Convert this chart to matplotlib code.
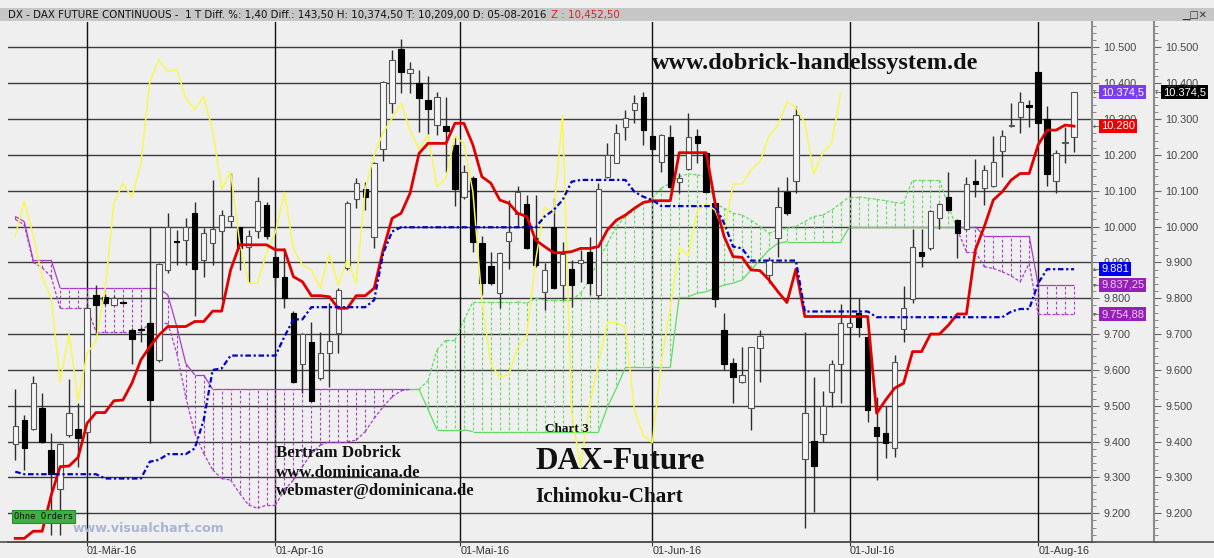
import matplotlib
matplotlib.use("Agg")
import matplotlib.pyplot as plt
import numpy as np
from matplotlib.collections import LineCollection
from matplotlib.transforms import blended_transform_factory
from matplotlib.patches import Rectangle
from matplotlib.lines import Line2D

# daily bars, index 0 .. 118 (mid Feb 2016 .. 05-Aug-2016)
opens = [9392, 9460, 9435, 9493, 9377, 9267, 9418, 9435, 9428, 9809,
         9804, 9781, 9790, 9711, 9713, 9730, 9628, 9879, 9958, 9962,
         10039, 9907, 9953, 9988, 10016, 10000, 9944, 9988, 10060, 9916,
         9860, 9760, 9616, 9679, 9578, 9648, 9704, 9883, 10076, 10104,
         9972, 10215, 10344, 10494, 10427, 10400, 10353, 10283, 10281, 10228,
         10081, 10135, 9955, 9890, 9814, 9960, 10034, 10063, 9967, 9818,
         9998, 9837, 9881, 9899, 9930, 9809, 10139, 10176, 10279, 10325,
         10362, 10253, 10181, 10251, 10125, 10160, 10253, 10204, 10065, 9711,
         9618, 9567, 9493, 9660, 9865, 9967, 10097, 10128, 9351, 9403,
         9420, 9539, 9616, 9721, 9760, 9693, 9440, 9425, 9381, 9713,
         9797, 9930, 9939, 10023, 10083, 10018, 9992, 10128, 10107, 10114,
         10212, 10281, 10305, 10340, 10432, 10299, 10128, 10232, 10251]
highs = [9546, 9474, 9583, 9535, 9423, 9397, 9574, 9507, 9785, 9837,
         9812, 9805, 9793, 9716, 9720, 10000, 9897, 10039, 9990, 10023,
         10069, 9995, 10130, 10046, 10150, 10000, 9990, 10139, 10069, 9946,
         9939, 9765, 9702, 9735, 9707, 9786, 9828, 10072, 10135, 10125,
         10181, 10407, 10493, 10522, 10460, 10437, 10420, 10376, 10362, 10253,
         10172, 10141, 9974, 9930, 9930, 10074, 10113, 10088, 10088, 9897,
         10079, 9958, 9907, 9935, 9972, 10122, 10232, 10286, 10325, 10367,
         10376, 10269, 10258, 10283, 10148, 10316, 10271, 10206, 10067, 9758,
         9632, 9665, 9665, 9711, 9916, 10111, 10139, 10336, 9707, 9581,
         9542, 9628, 9784, 9735, 9800, 9695, 9525, 9498, 9642, 9834,
         9992, 9992, 10046, 10065, 10153, 10020, 10137, 10188, 10172, 10253,
         10269, 10344, 10376, 10353, 10434, 10336, 10214, 10277, 10374.5]
lows = [9349, 9321, 9432, 9395, 9140, 9140, 9414, 9330, 9420, 9697,
        9780, 9778, 9785, 9616, 9679, 9395, 9623, 9869, 9893, 9893,
        9750, 9858, 9893, 9795, 10000, 9879, 9846, 9967, 9964, 9830,
        9772, 9563, 9535, 9512, 9572, 9553, 9648, 9880, 10051, 10046,
        9939, 10184, 10316, 10372, 10372, 10265, 10258, 10255, 10153, 10057,
        10078, 9930, 9809, 9837, 9772, 9881, 10000, 9936, 9888, 9767,
        9825, 9795, 9776, 9846, 9809, 9797, 10135, 10176, 10241, 10288,
        10228, 10214, 10153, 10108, 10093, 10158, 10176, 10095, 9776, 9600,
        9507, 9563, 9432, 9567, 9842, 9916, 10032, 10093, 9160, 9204,
        9400, 9497, 9507, 9719, 9693, 9456, 9293, 9353, 9358, 9679,
        9788, 9888, 9935, 9992, 10042, 9911, 9990, 10083, 10060, 10111,
        10139, 10279, 10260, 10279, 10286, 10113, 10093, 10178, 10209]
closes = [9443, 9383, 9563, 9400, 9311, 9392, 9479, 9409, 9772, 9781,
          9788, 9801, 9787, 9685, 9712, 9516, 9895, 10000, 9957, 10000,
          9881, 9981, 9992, 10032, 10028, 9939, 9974, 10071, 9974, 9858,
          9802, 9567, 9700, 9514, 9646, 9681, 9823, 10065, 10121, 10081,
          10176, 10404, 10465, 10432, 10439, 10358, 10327, 10362, 10267, 10104,
          10153, 9958, 9842, 9842, 9927, 9984, 10095, 9939, 9893, 9879,
          9828, 9923, 9837, 9908, 9842, 10104, 10200, 10262, 10302, 10344,
          10269, 10215, 10255, 10111, 10135, 10251, 10232, 10097, 9797, 9616,
          9581, 9586, 9663, 9695, 9907, 10055, 10037, 10311, 9479, 9332,
          9499, 9617, 9732, 9732, 9719, 9488, 9417, 9397, 9621, 9772,
          9942, 9918, 10044, 10063, 10046, 9981, 10119, 10119, 10158, 10181,
          10253, 10282, 10348, 10333, 10288, 10147, 10206, 10233, 10374.5]

# Tenkan-sen (red)
tenkan = [9130, 9130, 9150, 9150, 9250, 9330, 9332, 9356, 9451, 9481,
          9481, 9514, 9516, 9563, 9628, 9665, 9697, 9721, 9721, 9721,
          9735, 9735, 9764, 9764, 9879, 9949, 9949, 9949, 9949, 9935,
          9935, 9860, 9846, 9807, 9807, 9804, 9772, 9772, 9807, 9807,
          9828, 9935, 10023, 10037, 10093, 10204, 10232, 10232, 10232, 10288,
          10288, 10228, 10139, 10121, 10074, 10065, 10037, 10028, 9962, 9944,
          9927, 9927, 9930, 9939, 9939, 9944, 9991, 10018, 10032, 10051,
          10067, 10072, 10072, 10072, 10206, 10206, 10206, 10206, 10065, 9972,
          9916, 9914, 9879, 9877, 9851, 9818, 9788, 9881, 9749, 9749,
          9749, 9749, 9749, 9749, 9749, 9749, 9479, 9516, 9549, 9563,
          9651, 9651, 9700, 9700, 9725, 9756, 9756, 9935, 10000, 10074,
          10097, 10130, 10148, 10148, 10228, 10269, 10269, 10283, 10280]
# Kijun-sen (blue)
kijun = [9316, 9309, 9309, 9309, 9309, 9309, 9309, 9309, 9309, 9309,
         9297, 9297, 9297, 9297, 9297, 9344, 9349, 9365, 9365, 9365,
         9381, 9460, 9600, 9604, 9640, 9640, 9640, 9640, 9640, 9640,
         9693, 9741, 9741, 9775, 9775, 9775, 9775, 9775, 9775, 9775,
         9795, 9925, 9986, 9998, 9998, 9998, 9998, 9998, 9998, 9998,
         9998, 9998, 9998, 9998, 9998, 9998, 9998, 9998, 9998, 10028,
         10046, 10074, 10125, 10130, 10130, 10130, 10130, 10130, 10130, 10097,
         10083, 10074, 10057, 10057, 10057, 10057, 10057, 10057, 10057, 10009,
         9944, 9939, 9905, 9905, 9905, 9905, 9905, 9905, 9763, 9763,
         9763, 9763, 9763, 9763, 9763, 9763, 9747, 9747, 9747, 9747,
         9747, 9747, 9747, 9747, 9747, 9747, 9747, 9747, 9747, 9747,
         9747, 9763, 9770, 9770, 9842, 9881, 9881, 9881, 9881]
# Senkou span A / B (cloud)
span_a = [10020, 10005, 9900, 9885, 9860, 9772, 9772, 9772, 9772, 9707,
          9707, 9707, 9707, 9707, 9707, 9730, 9730, 9730, 9646, 9525,
          9423, 9367, 9321, 9297, 9293, 9256, 9223, 9214, 9223, 9223,
          9265, 9293, 9330, 9367, 9390, 9400, 9400, 9400, 9404, 9428,
          9465, 9497, 9525, 9542, 9546, 9546, 9570, 9656, 9683, 9683,
          9739, 9790, 9790, 9790, 9790, 9790, 9790, 9786, 9800, 9795,
          9795, 9795, 9795, 9814, 9851, 9907, 9953, 10000, 10028, 10046,
          10069, 10079, 10107, 10121, 10139, 10147, 10144, 10139, 10065, 10051,
          10037, 10032, 10018, 10000, 9981, 9991, 9995, 10000, 10014, 10028,
          10032, 10046, 10065, 10083, 10083, 10079, 10076, 10072, 10067, 10065,
          10130, 10130, 10130, 10130, 10056, 9991, 9930, 9930, 9888, 9883,
          9874, 9862, 9846, 9897, 9754.88, 9754.88, 9754.88, 9754.88, 9754.88]
span_b = [10028, 10014, 9907, 9907, 9907, 9828, 9828, 9828, 9828, 9828,
          9828, 9828, 9828, 9828, 9828, 9828, 9828, 9809, 9721, 9618,
          9586, 9586, 9546, 9546, 9546, 9546, 9546, 9546, 9546, 9546,
          9546, 9546, 9546, 9546, 9546, 9546, 9546, 9546, 9546, 9546,
          9546, 9546, 9546, 9546, 9546, 9546, 9490, 9433, 9433, 9433,
          9433, 9428, 9428, 9428, 9428, 9428, 9428, 9428, 9428, 9428,
          9428, 9428, 9428, 9428, 9428, 9428, 9497, 9549, 9607, 9607,
          9607, 9607, 9607, 9607, 9804, 9804, 9814, 9818, 9828, 9837,
          9842, 9851, 9879, 9907, 9935, 9953, 9958, 9958, 9958, 9958,
          9958, 9958, 9958, 10000, 10000, 10000, 10000, 10000, 10000, 10000,
          10000, 10000, 10000, 10000, 10000, 10000, 10000, 10000, 9974, 9974,
          9974, 9974, 9974, 9974, 9837.25, 9837.25, 9837.25, 9837.25, 9837.25]

month_idx = [8, 29, 49.6, 71, 93, 114]
month_labels = ['01-Mär-16', '01-Apr-16', '01-Mai-16', '01-Jun-16', '01-Jul-16', '01-Aug-16']
price_ticks = list(range(9200, 10600, 100))

W, H = 1214, 558
BG = '#efefef'
PURPLE = '#aa3ccc'
GREEN = '#5fdc5f'

fig = plt.figure(figsize=(W / 100, H / 100), dpi=100, facecolor=BG)
left, right, top, bottom = 8, 1092, 22, 542
ax = fig.add_axes([left / W, 1 - bottom / H, (right - left) / W, (bottom - top) / H])
ax.set_facecolor(BG)
ax.set_xlim(-0.81, 120.0)
ax.set_ylim(9119.9, 10570.6)

# grid
for p in price_ticks:
    ax.axhline(p, color='#3c3c3c', lw=1, zorder=0.5)
for m in month_idx:
    ax.axvline(m, color='#111111', lw=1, zorder=0.6)

n = len(closes)
idx = np.arange(n)
O, Hi, Lo, C = map(np.array, (opens, highs, lows, closes))
A, B = np.array(span_a), np.array(span_b)

# cloud hatch
bear = B > A
hatch = [[(i, A[i]), (i, B[i])] for i in idx]
ax.add_collection(LineCollection(hatch, colors=[PURPLE if b else GREEN for b in bear],
                                 linewidths=0.8, linestyles=(0, (2.5, 2)), zorder=1))
seg_col = [PURPLE if (B[i] + B[i + 1]) > (A[i] + A[i + 1]) else GREEN for i in range(n - 1)]
segA = [[(i, A[i]), (i + 1, A[i + 1])] for i in range(n - 1)]
segB = [[(i, B[i]), (i + 1, B[i + 1])] for i in range(n - 1)]
ax.add_collection(LineCollection(segA, colors=seg_col, linewidths=0.9, linestyles=(0, (2.5, 1.5)), zorder=1.2))
ax.add_collection(LineCollection(segB, colors=seg_col, linewidths=0.9, zorder=1.2))

# candles
upc = C >= O
ax.vlines(idx, Lo, Hi, color='#2e2e2e', lw=1, zorder=3)
body_lo = np.minimum(O, C)
body_h = np.maximum(np.abs(C - O), 3)
ax.bar(idx, body_h, bottom=body_lo, width=0.6,
       color=np.where(upc, '#f6f6f6', '#000000'),
       edgecolor=np.where(upc, '#555555', '#000000'), linewidth=0.8, zorder=4)

# chikou span = close shifted back 26 bars
ax.plot(idx[:-26], C[26:], color='#f8f850', lw=1.1, zorder=5)
ax.plot(idx, tenkan, color='#e00000', lw=2, zorder=6)
ax.plot(idx, kijun, color='#0000c8', lw=1.6, linestyle=(0, (2.5, 1.2, 1, 1.2)), zorder=6)

# axes styling
for s in ('left', 'top'):
    ax.spines[s].set_visible(False)
ax.spines['right'].set_color('#8c8c8c')
ax.spines['right'].set_linewidth(1.5)
ax.spines['bottom'].set_color('#505050')
ax.spines['bottom'].set_linewidth(1.2)

fmt = lambda v, pos=None: f"{int(v):,}".replace(',', '.')
ax.yaxis.tick_right()
ax.set_yticks(price_ticks)
ax.set_yticklabels([fmt(v) for v in price_ticks], family='Liberation Sans')
ax.set_yticks(np.arange(9120, 10580, 20), minor=True)
ax.tick_params(axis='y', which='major', direction='out', length=5, color='#666666',
               labelsize=7.8, labelcolor='#444444', pad=3)
ax.tick_params(axis='y', which='minor', direction='out', length=3, color='#777777')
ax.set_xticks(month_idx)
ax.set_xticklabels(month_labels, family='Liberation Sans', ha='left')
ax.tick_params(axis='x', direction='out', length=3, color='#333333', labelsize=7.8,
               labelcolor='#333333', pad=0)

# second price axis
ax2 = fig.add_axes([1154 / W - 0.0001, 1 - bottom / H, 0.0001, (bottom - top) / H])
ax2.set_facecolor('none')
ax2.set_ylim(ax.get_ylim())
ax2.set_xticks([])
for s in ('left', 'top', 'bottom'):
    ax2.spines[s].set_visible(False)
ax2.spines['right'].set_color('#8c8c8c')
ax2.spines['right'].set_linewidth(1.5)
ax2.yaxis.tick_right()
ax2.set_yticks(price_ticks)
ax2.set_yticklabels([fmt(v) for v in price_ticks], family='Liberation Sans')
ax2.set_yticks(np.arange(9120, 10580, 20), minor=True)
ax2.tick_params(axis='y', which='major', direction='out', length=5, color='#666666',
                labelsize=7.8, labelcolor='#444444', pad=3)
ax2.tick_params(axis='y', which='minor', direction='out', length=3, color='#777777')

# bottom line across the whole width
fig.add_artist(Line2D([0, 1], [1 - bottom / H] * 2, color='#505050', lw=1.2))

# value tags on the price axes
bt = blended_transform_factory(fig.transFigure, ax.transData)
tags = [(1101, 10374.5, '10.374,5', '#7a3cf2', 'white'),
        (1101, 10280, '10.280', '#f00000', 'white'),
        (1101, 9881, '9.881', '#0000f0', 'white'),
        (1101, 9837.25, '9.837,25', '#9420b8', '#f4c8f4'),
        (1101, 9754.88, '9.754,88', '#9420b8', '#f4c8f4'),
        (1163, 10374.5, '10.374,5', '#000000', 'white')]
for xp, pv, txt, fc, tc in tags:
    ax.text(xp / W, pv, txt, transform=bt, ha='left', va='center', fontsize=8,
            family='Liberation Sans', color=tc, zorder=10, clip_on=False,
            bbox=dict(boxstyle='square,pad=0.18', fc=fc, ec='none'))
    ax.text((xp - 8) / W, pv, '←', transform=bt, ha='left', va='center', fontsize=6,
            color='#555555', clip_on=False)

# header bar
fig.add_artist(Rectangle((0, 1 - 21 / H), 1, 13 / H, transform=fig.transFigure,
                         fc='#c6c6c6', ec='none', zorder=-1))
t1 = fig.text(8 / W, 1 - 15 / H,
              'DX - DAX FUTURE CONTINUOUS -  1 T Diff. %: 1,40 Diff.: 143,50 H: 10,374,50 '
              'T: 10,209,00 D: 05-08-2016',
              fontsize=7.35, family='DejaVu Sans', color='#111111', va='center')
ax2.annotate('Z : 10,452,50', xy=(1, 0.5), xycoords=t1, xytext=(3, 0), textcoords='offset points',
             va='center', fontsize=7.35, family='DejaVu Sans', color='#e02020',
             annotation_clip=False, zorder=10)
fig.text(1182 / W, 1 - 15 / H, '▁□✕', fontsize=7, color='#333333', va='center')

# chart texts
serif = dict(family='Liberation Serif', weight='bold', color='#111111')
fig.text(652 / W, 1 - 69 / H, 'www.dobrick-handelssystem.de', fontsize=17.5, va='baseline', **serif)
fig.text(276 / W, 1 - 457 / H, 'Bertram Dobrick', fontsize=12.1, va='baseline', **serif)
fig.text(276 / W, 1 - 477 / H, 'www.dominicana.de', fontsize=12.1, va='baseline', **serif)
fig.text(276 / W, 1 - 495 / H, 'webmaster@dominicana.de', fontsize=12.1, va='baseline', **serif)
fig.text(545 / W, 1 - 432 / H, 'Chart 3', fontsize=9.5, va='baseline', **serif)
fig.text(535 / W, 1 - 469 / H, 'DAX-Future', fontsize=22.5, va='baseline', **serif)
fig.text(535 / W, 1 - 502 / H, 'Ichimoku-Chart', fontsize=15.2, va='baseline', **serif)

fig.text(14 / W, 1 - 516.5 / H, 'Ohne Orders', fontsize=6.4, family='DejaVu Sans Mono',
         color='#101010', va='center',
         bbox=dict(boxstyle='square,pad=0.25', fc='#3cb043', ec='#2c8c2c', lw=0.8))
fig.text(73 / W, 1 - 529 / H, 'www.visualchart.com', fontsize=9.1, weight='bold',
         family='DejaVu Sans', color='#aab4d4', va='center')

fig.savefig('out.png', dpi=100, facecolor=BG)
